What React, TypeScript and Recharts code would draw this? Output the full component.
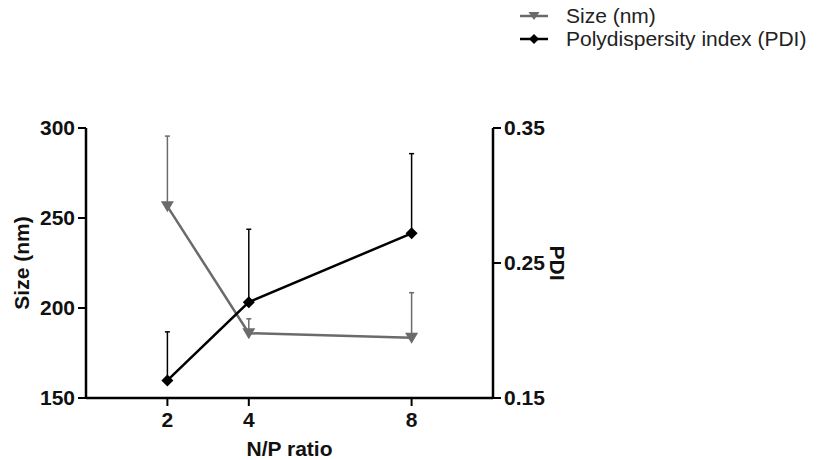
import React from 'react';
import { ComposedChart, Line, XAxis, YAxis, ErrorBar } from 'recharts';

const npRatio = [2, 4, 8];
const sizeMean = [256.5, 186, 183.5];
const sizeSd = [39, 8, 25];
const pdiMean = [0.163, 0.221, 0.272];
const pdiSd = [0.036, 0.054, 0.059];
const xTicks = [2, 4, 8];
const sizeTicks = [150, 200, 250, 300];
const pdiTicks = [0.15, 0.25, 0.35];
const seriesNames = ['Size (nm)', 'Polydispersity index (PDI)'];

const GRAY = '#6b6b6b';
const BLACK = '#000000';
const FONT = '"Liberation Sans", Arial, Helvetica, sans-serif';

const data = npRatio.map((x, i) => ({
  x,
  size: sizeMean[i],
  sizeErr: [0, sizeSd[i]],
  pdi: pdiMean[i],
  pdiErr: [0, pdiSd[i]],
}));

const TriDot = (props: any) => {
  const { cx, cy, index } = props;
  if (cx == null || cy == null) return <g key={`t${index}`} />;
  return (
    <path
      key={`t${index}`}
      d={`M${cx - 6.5},${cy - 5} L${cx + 6.5},${cy - 5} L${cx},${cy + 6} Z`}
      fill={GRAY}
    />
  );
};

const DiaDot = (props: any) => {
  const { cx, cy, index } = props;
  if (cx == null || cy == null) return <g key={`d${index}`} />;
  return (
    <path
      key={`d${index}`}
      d={`M${cx},${cy - 6} L${cx + 6},${cy} L${cx},${cy + 6} L${cx - 6},${cy} Z`}
      fill={BLACK}
    />
  );
};

const tickStyle = { fontFamily: FONT, fontSize: 21, fontWeight: 700, fill: '#111' };
const titleStyle = { fontFamily: FONT, fontSize: 21, fontWeight: 700, fill: '#111' };

const LeftLabel = (props: any) => {
  const vb = props.viewBox || {};
  const x = vb.x + 21;
  const y = vb.y + vb.height / 2;
  return (
    <text x={x} y={y} transform={`rotate(-90, ${x}, ${y})`} textAnchor="middle" dominantBaseline="central"
      style={titleStyle}>Size (nm)</text>
  );
};

const RightLabel = (props: any) => {
  const vb = props.viewBox || {};
  const x = vb.x + 64;
  const y = vb.y + vb.height / 2;
  return (
    <text x={x} y={y} transform={`rotate(90, ${x}, ${y})`} textAnchor="middle" dominantBaseline="central"
      style={titleStyle}>PDI</text>
  );
};

const BottomLabel = (props: any) => {
  const vb = props.viewBox || {};
  const x = vb.x + vb.width / 2;
  const y = vb.y + 50;
  return (
    <text x={x} y={y} textAnchor="middle" dominantBaseline="central" style={titleStyle}>N/P ratio</text>
  );
};

const LegendIcon = ({ color, kind }: { color: string; kind: 'tri' | 'dia' }) => (
  <svg width={30} height={14} style={{ display: 'block' }}>
    <line x1={1} y1={7} x2={29} y2={7} stroke={color} strokeWidth={2.5} />
    {kind === 'tri' ? (
      <path d="M9.5,3 L20.5,3 L15,11 Z" fill={color} />
    ) : (
      <path d="M15,2 L20,7 L15,12 L10,7 Z" fill={color} />
    )}
  </svg>
);

export default function App() {
  return (
    <div style={{ position: 'absolute', left: 0, top: 0, width: 824, height: 460, background: '#fff' }}>
      <div style={{ position: 'absolute', left: 519, top: 5, fontFamily: FONT, fontSize: 21, color: '#222' }}>
        {seriesNames.map((n, i) => (
          <div key={n} style={{ display: 'flex', alignItems: 'center', height: 22.5, whiteSpace: 'nowrap' }}>
            <LegendIcon color={i === 0 ? GRAY : BLACK} kind={i === 0 ? 'tri' : 'dia'} />
            <span style={{ marginLeft: 17 }}>{n}</span>
          </div>
        ))}
      </div>
      <ComposedChart
        width={824}
        height={460}
        data={data}
        margin={{ top: 128, right: 0, bottom: 0, left: 0 }}
        style={{ position: 'absolute', left: 0, top: 0 }}
      >
        <XAxis
          dataKey="x"
          type="number"
          domain={[0, 10]}
          ticks={xTicks}
          height={62}
          tickSize={8}
          tickMargin={6}
          axisLine={{ stroke: '#000', strokeWidth: 2.5 }}
          tickLine={{ stroke: '#000', strokeWidth: 2 }}
          tick={tickStyle}
          label={<BottomLabel />}
        />
        <YAxis
          yAxisId="left"
          orientation="left"
          width={86}
          domain={[150, 300]}
          ticks={sizeTicks}
          allowDataOverflow
          tickSize={8}
          tickMargin={3}
          axisLine={{ stroke: '#000', strokeWidth: 2.5 }}
          tickLine={{ stroke: '#000', strokeWidth: 2 }}
          tick={tickStyle}
          label={<LeftLabel />}
        />
        <YAxis
          yAxisId="right"
          orientation="right"
          width={331}
          domain={[0.15, 0.35]}
          ticks={pdiTicks}
          allowDataOverflow
          tickSize={8}
          tickMargin={3}
          tickFormatter={(v: number) => v.toFixed(2)}
          axisLine={{ stroke: '#000', strokeWidth: 2.5 }}
          tickLine={{ stroke: '#000', strokeWidth: 2 }}
          tick={tickStyle}
          label={<RightLabel />}
        />
        <Line
          yAxisId="left"
          dataKey="size"
          stroke={GRAY}
          strokeWidth={2.5}
          dot={TriDot}
          activeDot={false}
          isAnimationActive={false}
        >
          <ErrorBar dataKey="sizeErr" direction="y" width={2.5} stroke={GRAY} strokeWidth={1.5} isAnimationActive={false} />
        </Line>
        <Line
          yAxisId="right"
          dataKey="pdi"
          stroke={BLACK}
          strokeWidth={2.5}
          dot={DiaDot}
          activeDot={false}
          isAnimationActive={false}
        >
          <ErrorBar dataKey="pdiErr" direction="y" width={2.5} stroke={BLACK} strokeWidth={1.5} isAnimationActive={false} />
        </Line>
      </ComposedChart>
    </div>
  );
}
